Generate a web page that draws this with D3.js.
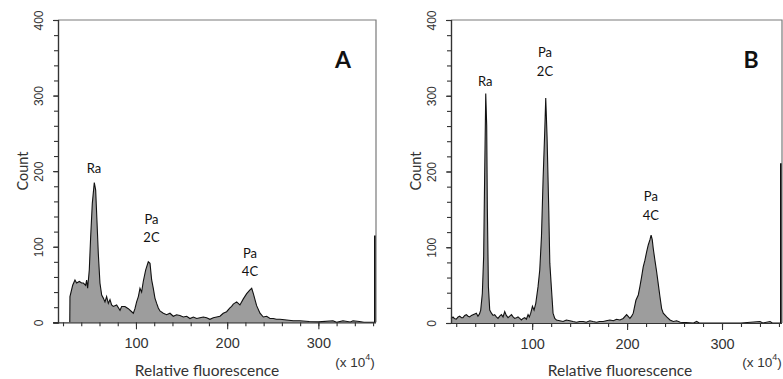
<!DOCTYPE html>
<html>
<head>
<meta charset="utf-8">
<script src="https://cdn.jsdelivr.net/npm/d3@7"></script>
<style>
  body { margin: 0; background: #fff; }
  svg { display: block; }
</style>
</head>
<body>
<svg id="chart" width="783" height="379"></svg>
<script>
// channel (x 10^4) and count
const aX = [27.4, 27.6, 30.6, 33.1, 34.9, 37.9, 40.4, 42.3, 44.8, 45.9, 47.0, 48.8, 50.3, 52.1, 54.3, 55.8, 57.2, 58.7,
  60.5, 62.4, 64.2, 66.0, 67.8, 69.7, 71.5, 73.3, 75.1, 78.8, 82.5, 84.3, 87.9, 91.6, 95.3, 97.1, 98.9, 100.7, 102.6,
  104.4, 106.2, 108.0, 110.6, 113.5, 115.4, 117.2, 119.0, 120.8, 122.7, 124.5, 126.3, 130, 133.6, 137.3, 140.9, 144.6,
  148.2, 151.9, 155.6, 159.2, 162.9, 166.6, 170.2, 173.8, 177.5, 181.1, 184.8, 188.5, 192.1, 193.9, 195.7, 199.4, 203,
  204.9, 206.7, 210.4, 214, 217.7, 221.4, 225, 226.9, 228.7, 230.5, 232.3, 236, 239.6, 243.3, 247, 250.6, 254, 257.9,
  265.2, 272.5, 279.8, 290, 300, 316, 320, 327, 335, 338, 345, 350, 362];
const aCount = [0, 34, 49, 56, 52, 54, 52, 52, 49, 56, 45, 69, 113, 157, 185, 175, 135, 91,
  52, 36, 32, 27, 34, 25, 30, 23, 21, 23, 16, 21, 21, 18, 14, 12, 18, 27, 34,
  45, 40, 54, 69, 80, 78, 56, 45, 32, 25, 19, 15, 12, 10, 12, 8, 10,
  9, 7, 8, 5, 7, 5, 6, 7, 6, 4, 6, 7, 8, 10, 12, 14, 19,
  21, 24, 27, 23, 31, 38, 43, 45, 38, 30, 22, 12, 7, 8, 5, 5, 4, 4,
  3, 2, 2, 1, 0.5, 2, 0, 2, 0.5, 2, 1, 0, 0];
const aOverflow = 115;

const bX = [14.5, 16.6, 18, 20.1, 22, 23.6, 25.5, 27.1, 29, 30.7, 32.5, 34.2, 36, 37.7, 39.5, 41.2, 42.9, 44.5, 45.8,
  47.5, 48.9, 50, 51.1, 52.1, 52.8, 53.9, 55.3, 57.1, 58.8, 60.5, 62.3, 64.0, 65.8, 67.6, 69.3, 71.1, 72.8, 74.6, 76.4,
  78.2, 79.9, 81.6, 83.4, 85.1, 86.9, 88.7, 90.4, 92.2, 93.9, 95.7, 97, 98.5, 100.3, 102, 103.8, 106.2, 108, 109.8,
  111.5, 113.3, 114.3, 115.7, 117.5, 118.6, 120.4, 122, 123.8, 125.6, 129, 132.6, 136, 139.7, 143, 146.7, 150, 153.7,
  157, 160.8, 164, 167.8, 171, 174.8, 178, 181.9, 185.5, 188.9, 192.5, 195.9, 199.5, 203, 204.8, 206.5, 209.3, 211.8,
  213.5, 215.3, 217, 218.8, 220.6, 222.3, 224.1, 225.3, 226.5, 227.5, 229.3, 231.1, 232.8, 234.6, 236.4, 238.1, 241.7,
  245.2, 248.7, 252.2, 256, 262, 270, 273.3, 276, 300, 320, 340, 343, 350.6, 353, 362];
const bCount = [6, 8, 6, 5, 8, 9, 7, 7, 10, 11, 9, 8, 10, 11, 12, 13, 9, 12, 17,
  39, 88, 199, 303, 261, 151, 48, 17, 13, 10, 11, 8, 6, 9, 11, 8, 15, 10, 7, 9,
  11, 8, 6, 7, 8, 6, 4, 6, 7, 5, 11, 8, 13, 22, 17, 26, 48, 70, 114,
  189, 255, 297, 246, 149, 79, 44, 13, 6, 4, 3, 2, 4, 3, 2, 1, 2, 2,
  1, 3, 2, 1, 2, 2, 3, 4, 3, 5, 4, 6, 11, 6, 9, 13, 30, 37,
  48, 61, 74, 83, 94, 103, 110, 116, 110, 99, 83, 68, 52, 35, 19, 13, 8,
  4, 2, 3, 1, 0.5, 0, 2, 0, 0, 0, 2, 0, 2, 0, 0];
const bOverflow = 211;

// peak labels: text lines, channel, count at the label centre
const aPeaks = [["Ra"], 54, 204, ["Pa", "2C"], 117, 125, ["Pa", "4C"], 225, 80];
const bPeaks = [["Ra"], 50.5, 320, ["Pa", "2C"], 113.5, 345, ["Pa", "4C"], 225, 155];

const yTicks = [0, 100, 200, 300, 400];
const xTicks = [100, 200, 300];
const xDomain = [14.5, 363.2];
const yDomain = [0, 400];

const svg = d3.select("#chart");
const font = "'Liberation Sans', Arial, sans-serif";
const labelFont = "Lato, 'Open Sans', sans-serif";

function panel(opts) {
  const x = d3.scaleLinear().domain(xDomain).range([opts.left, opts.right]);
  const y = d3.scaleLinear().domain(yDomain).range([opts.bottom, opts.top]);
  const g = svg.append("g");

  const pts = opts.xs.map((v, i) => [v, opts.counts[i]]);
  pts.push([xDomain[1] - 0.6, 0]);

  const area = d3.area()
    .x(d => x(d[0]))
    .y0(y(0))
    .y1(d => y(d[1]));
  const line = d3.line()
    .x(d => x(d[0]))
    .y(d => y(d[1]));

  g.append("path").datum(pts)
    .attr("d", area)
    .attr("fill", "#9d9d9d");
  g.append("path").datum(pts)
    .attr("d", line)
    .attr("fill", "none")
    .attr("stroke", "#111")
    .attr("stroke-width", 1.1);

  // overflow channel at the right end
  g.append("line")
    .attr("x1", opts.right - 1).attr("x2", opts.right - 1)
    .attr("y1", y(opts.overflow)).attr("y2", y(0))
    .attr("stroke", "#111").attr("stroke-width", 2);

  // frame: top and right
  g.append("path")
    .attr("d", `M${opts.left},${opts.top}H${opts.right}V${opts.bottom}`)
    .attr("fill", "none")
    .attr("stroke", "#7a7a7a")
    .attr("stroke-width", 1.2);

  // y axis
  const yMinor = g.append("g")
    .attr("transform", `translate(${opts.left},0)`)
    .call(d3.axisLeft(y).tickValues(d3.range(0, 401, 20)).tickSize(4).tickFormat(""));
  const yAxis = g.append("g")
    .attr("transform", `translate(${opts.left},0)`)
    .call(d3.axisLeft(y).tickValues(yTicks).tickSize(5));
  yAxis.selectAll("text")
    .attr("x", null).attr("dy", null)
    .attr("transform", "translate(-19,0) rotate(-90)")
    .attr("text-anchor", "middle")
    .attr("dominant-baseline", "central")
    .style("font", `12px ${font}`)
    .attr("fill", "#333");

  // x axis
  const xMinor = g.append("g")
    .attr("transform", `translate(0,${opts.bottom})`)
    .call(d3.axisBottom(x).tickValues(d3.range(20, 361, 20)).tickSize(4).tickFormat(""));
  const xAxis = g.append("g")
    .attr("transform", `translate(0,${opts.bottom})`)
    .call(d3.axisBottom(x).tickValues(xTicks).tickSize(7));
  xAxis.selectAll("text")
    .attr("y", 21).attr("dy", null)
    .attr("dominant-baseline", "central")
    .style("font", `14.5px ${font}`)
    .attr("fill", "#333");

  [yMinor, yAxis, xMinor, xAxis].forEach(a => {
    a.select(".domain").attr("stroke", "#333").attr("stroke-width", 1.2);
    a.selectAll(".tick line").attr("stroke", "#333").attr("stroke-width", 1.1);
  });
  xMinor.select(".domain").attr("d", `M${opts.left - 5},0.5H${opts.right}`);
  xAxis.select(".domain").remove();

  // axis titles
  g.append("text")
    .attr("transform", `translate(${opts.left - 36},171) rotate(-90)`)
    .attr("text-anchor", "middle")
    .attr("dominant-baseline", "central")
    .style("font", `14.5px ${labelFont}`)
    .attr("fill", "#333")
    .text("Count");
  g.append("text")
    .attr("x", opts.titleX).attr("y", 370)
    .attr("text-anchor", "middle")
    .attr("dominant-baseline", "central")
    .style("font", `15.5px ${labelFont}`)
    .attr("fill", "#333")
    .text("Relative fluorescence");
  const unit = g.append("text")
    .attr("x", opts.unitX).attr("y", 362)
    .attr("text-anchor", "middle")
    .attr("dominant-baseline", "central")
    .style("font", `13.5px ${font}`)
    .attr("fill", "#333");
  unit.append("tspan").text("(x 10");
  unit.append("tspan").attr("dy", -5).style("font-size", "9px").text("4");
  unit.append("tspan").attr("dy", 5).text(")");

  // panel letter
  g.append("text")
    .attr("x", opts.letterX).attr("y", 59)
    .attr("text-anchor", "middle")
    .attr("dominant-baseline", "central")
    .style("font", `bold 23px ${labelFont}`)
    .attr("fill", "#111")
    .text(opts.letter);

  // peak labels
  for (let i = 0; i < opts.peaks.length; i += 3) {
    const lines = opts.peaks[i];
    const cx = x(opts.peaks[i + 1]);
    const cy = y(opts.peaks[i + 2]);
    lines.forEach((t, k) => {
      g.append("text")
        .attr("x", cx)
        .attr("y", cy + (k - (lines.length - 1) / 2) * 18.5)
        .attr("text-anchor", "middle")
        .attr("dominant-baseline", "central")
        .style("font", `13px ${labelFont}`)
        .attr("fill", "#111")
        .text(t);
    });
  }
}

panel({ left: 58, right: 376, top: 20, bottom: 322.3, xs: aX, counts: aCount, overflow: aOverflow,
  peaks: aPeaks, letter: "A", letterX: 343, titleX: 207, unitX: 355 });
panel({ left: 451, right: 782, top: 20, bottom: 323, xs: bX, counts: bCount, overflow: bOverflow,
  peaks: bPeaks, letter: "B", letterX: 751, titleX: 620, unitX: 762 });
</script>
</body>
</html>
